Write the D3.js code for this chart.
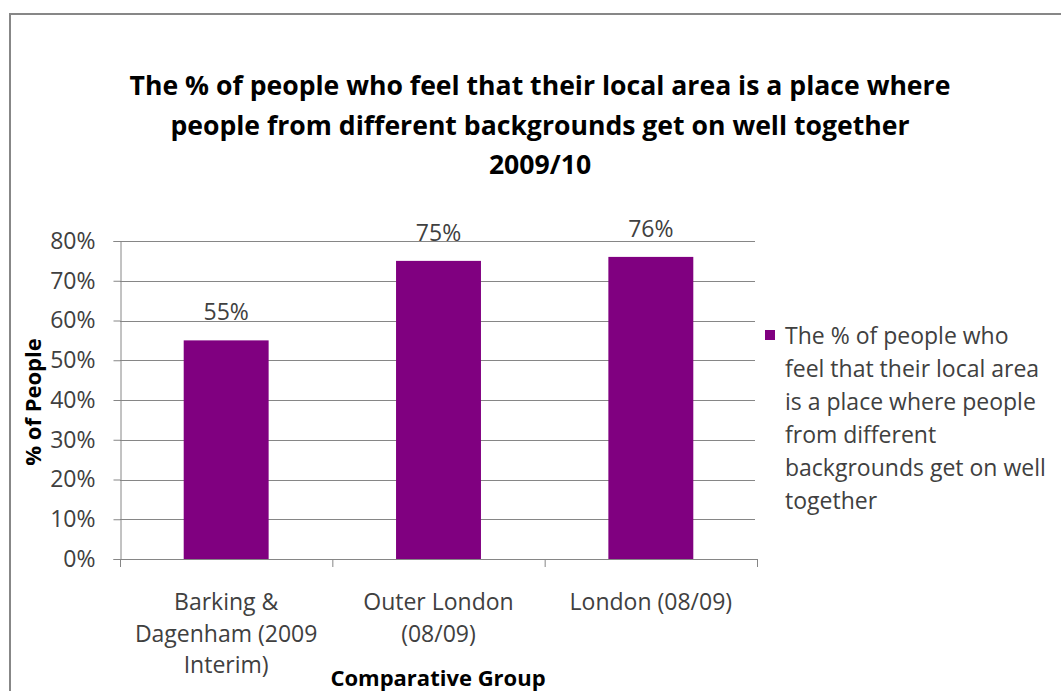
<!DOCTYPE html>
<html><head><meta charset="utf-8">
<script src="https://cdn.jsdelivr.net/npm/d3@7"></script>
<style>body{margin:0;background:#fff}svg{display:block}text{font-family:"Open Sans","Liberation Sans",sans-serif}</style>
</head><body>
<svg id="c" width="1061" height="691"></svg>
<script>
const categories = [["Barking &","Dagenham (2009","Interim)"],["Outer London","(08/09)"],["London (08/09)"]];
const values = [0.55, 0.75, 0.76];
const valueLabels = ["55%","75%","76%"];
const yTicks = [0,0.1,0.2,0.3,0.4,0.5,0.6,0.7,0.8];
const titleLines = ["The % of people who feel that their local area is a place where","people from different backgrounds get on well together","2009/10"];
const legendLines = ["The % of people who","feel that their local area","is a place where people","from different","backgrounds get on well","together"];

const svg = d3.select("#c");
svg.append("rect").attr("x",10).attr("y",14).attr("width",1080).attr("height",700)
  .attr("fill","#fff").attr("stroke","#878787").attr("stroke-width",2);

const x = d3.scaleBand().domain(d3.range(categories.length)).range([120,757]).paddingInner(0.6).paddingOuter(0.3);
const y = d3.scaleLinear().domain([0,0.8]).range([559,241]);

// gridlines
svg.append("g").selectAll("line").data(yTicks.slice(1)).join("line")
  .attr("x1",120).attr("x2",755).attr("y1",d=>Math.round(y(d))+0.5).attr("y2",d=>Math.round(y(d))+0.5)
  .attr("stroke","#868686").attr("stroke-width",1);

const yAxis = svg.append("g").attr("transform","translate(120.5,0)")
  .call(d3.axisLeft(y).tickValues(yTicks).tickFormat(d3.format(".0%")).tickSize(7).tickPadding(18));
yAxis.select(".domain").attr("stroke","#868686");
yAxis.selectAll(".tick line").attr("stroke","#868686");
yAxis.selectAll("text").attr("font-size",23).attr("fill","#404040").attr("font-family","Open Sans, sans-serif");

// bars
svg.append("g").selectAll("rect").data(values).join("rect")
  .attr("x",(d,i)=>x(i)).attr("width",x.bandwidth())
  .attr("y",d=>y(d)).attr("height",d=>559-y(d)).attr("fill","#800080");

// value labels
svg.append("g").selectAll("text").data(values).join("text")
  .attr("x",(d,i)=>x(i)+x.bandwidth()/2).attr("y",d=>y(d)-20)
  .attr("text-anchor","middle").attr("font-size",23).attr("fill","#404040").text((d,i)=>valueLabels[i]);

// x axis
const xb = d3.scaleLinear().domain([0,categories.length]).range([120.5,757.5]);
svg.append("line").attr("x1",120).attr("x2",757).attr("y1",559.5).attr("y2",559.5).attr("stroke","#868686");
svg.append("g").selectAll("line").data(d3.range(categories.length+1)).join("line")
  .attr("x1",d=>xb(d)).attr("x2",d=>xb(d)).attr("y1",559).attr("y2",567).attr("stroke","#868686");
const xl = svg.append("g").selectAll("text").data(categories).join("text")
  .attr("x",(d,i)=>x(i)+x.bandwidth()/2).attr("y",610)
  .attr("text-anchor","middle").attr("font-size",23).attr("fill","#404040");
xl.selectAll("tspan").data(d=>d).join("tspan")
  .attr("x",function(){return d3.select(this.parentNode).attr("x");})
  .attr("dy",(d,i)=>i===0?0:31.5).text(d=>d);

// axis titles
svg.append("text").attr("x",438).attr("y",686).attr("text-anchor","middle")
  .attr("font-size",22).attr("font-weight","bold").attr("fill","#000").text("Comparative Group");
svg.append("text").attr("transform","translate(41,402) rotate(-90)").attr("text-anchor","middle")
  .attr("font-size",22).attr("font-weight","bold").attr("fill","#000").text("% of People");

// title
svg.append("g").selectAll("text").data(titleLines).join("text")
  .attr("x",540).attr("y",(d,i)=>95+i*39.5).attr("text-anchor","middle")
  .attr("font-size",26.6).attr("font-weight","bold").attr("fill","#000").text(d=>d);

// legend
svg.append("rect").attr("x",765).attr("y",330).attr("width",10).attr("height",10).attr("fill","#800080");
svg.append("g").selectAll("text").data(legendLines).join("text")
  .attr("x",785).attr("y",(d,i)=>344+i*33).attr("font-size",23).attr("fill","#404040").text(d=>d);
</script>
</body></html>
